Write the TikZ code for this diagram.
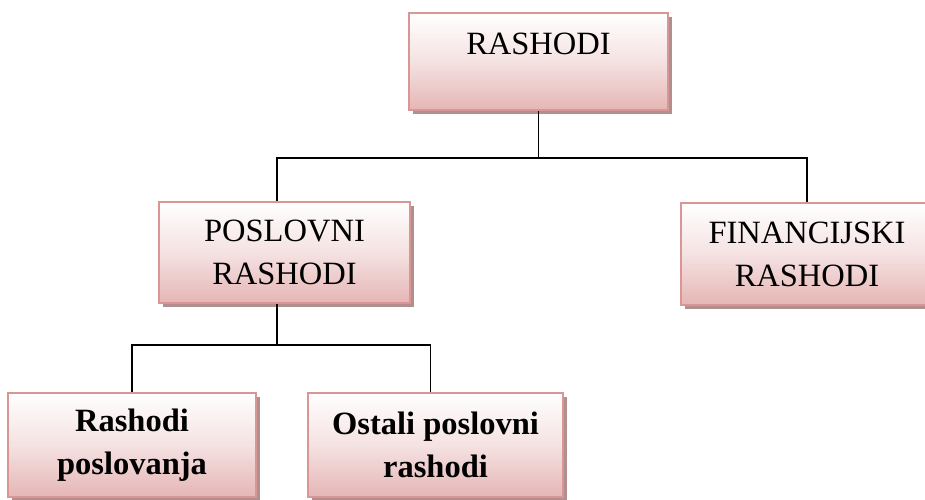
\documentclass[tikz,border=0pt]{standalone}
\usepackage{fontspec}
\setmainfont{Liberation Serif}
\usepackage{tikz}
\definecolor{BoxBorder}{RGB}{217,150,148}
\definecolor{BoxPink}{RGB}{229,182,181}
\definecolor{BoxShadow}{RGB}{178,143,143}
\usetikzlibrary{
	shadows,
	calc
}

\begin{document}
\begin{tikzpicture}[
	box/.style={draw=BoxBorder, line width=1pt, inner sep=0pt, align=center,
		top color=white, bottom color=BoxPink, middle color=BoxPink!40,
		font=\fontsize{18.5}{24.5}\selectfont,
		drop shadow={shadow xshift=0.08cm, shadow yshift=-0.08cm, fill=BoxShadow, opacity=1}},
	boldbox/.style={box, font=\fontsize{18.5}{24.5}\selectfont\bfseries},
	conn/.style={draw=black, line width=0.7pt}
]

	\useasboundingbox (0,0) rectangle (18.5,10);
	\clip (0,0) rectangle (18.5,10);

	\node[box, minimum width=5.18cm, minimum height=1.94cm, text depth=0.7cm] (rashodi) at (10.77,8.77) {RASHODI};

	\node[box, minimum width=5.02cm, minimum height=2.02cm] (poslovni) at (5.69,4.95) {POSLOVNI\\RASHODI};
	\node[box, minimum width=5.04cm, minimum height=2.04cm] (financijski) at (16.14,4.92) {FINANCIJSKI\\RASHODI};

	\node[boldbox, minimum width=4.96cm, minimum height=2.08cm] (poslovanja) at (2.64,1.10) {Rashodi\\poslovanja};
	\node[boldbox, minimum width=5.10cm, minimum height=2.08cm] (ostali) at (8.71,1.10) {Ostali poslovni\\rashodi};

	\coordinate (bustop) at (0,6.84);
	\coordinate (buslow) at (0,3.10);

	\draw[conn] (rashodi.south) -- (rashodi.south |- bustop);
	\draw[conn] ([xshift=-0.15cm]poslovni.north) |- (financijski.north |- bustop) -- (financijski.north);

	\draw[conn] ([xshift=-0.15cm]poslovni.south) -- ([xshift=-0.15cm]poslovni.south |- buslow);
	\draw[conn] (poslovanja.north) |- ([xshift=-0.1cm]ostali.north |- buslow) -- ([xshift=-0.1cm]ostali.north);

\end{tikzpicture}
\end{document}
